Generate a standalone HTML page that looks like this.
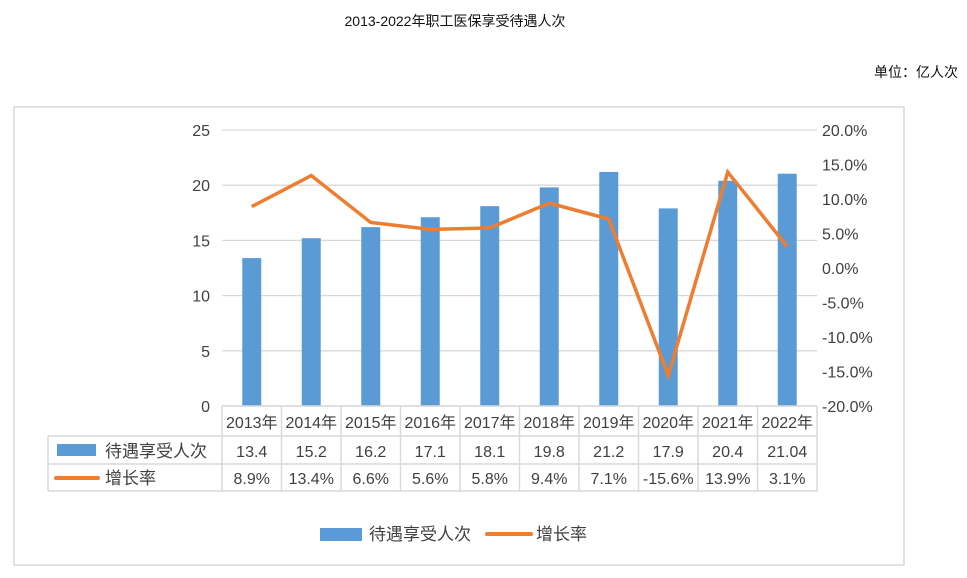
<!DOCTYPE html>
<html><head><meta charset="utf-8"><style>
body{margin:0;background:#fff;}
svg text{font-family:"Liberation Sans","Noto Sans CJK SC",sans-serif;fill:#404040;}
</style></head><body>
<svg width="967" height="573" xmlns="http://www.w3.org/2000/svg">
<text x="455" y="26" font-size="14" text-anchor="middle" fill="#000" style="fill:#111">2013-2022年职工医保享受待遇人次</text>
<text x="958" y="77" font-size="14" text-anchor="end" style="fill:#111">单位：亿人次</text>
<rect x="14" y="107" width="890" height="458" fill="none" stroke="#d9d9d9" stroke-width="1.5"/>
<g id="grid"></g><g id="bars"></g><g id="line"></g><g id="axes"></g><g id="table"></g>
<g>
<rect x="320" y="528" width="42" height="13" fill="#5B9BD5"/>
<text x="369" y="540" font-size="17">待遇享受人次</text>
<line x1="487" y1="534" x2="531" y2="534" stroke="#ED7D31" stroke-width="4" stroke-linecap="round"/>
<text x="536" y="540" font-size="17">增长率</text>
</g>
</svg>
<script>
const categories=["2013年","2014年","2015年","2016年","2017年","2018年","2019年","2020年","2021年","2022年"];
const visits=[13.4,15.2,16.2,17.1,18.1,19.8,21.2,17.9,20.4,21.04];
const visitLabels=["13.4","15.2","16.2","17.1","18.1","19.8","21.2","17.9","20.4","21.04"];
const growth=[8.9,13.4,6.6,5.6,5.8,9.4,7.1,-15.6,13.9,3.1];
const growthLabels=["8.9%","13.4%","6.6%","5.6%","5.8%","9.4%","7.1%","-15.6%","13.9%","3.1%"];
const leftTicks=[0,5,10,15,20,25];
const rightTicks=[-20,-15,-10,-5,0,5,10,15,20];
const NS="http://www.w3.org/2000/svg";
const X0=222,X1=817,Y0=406,Y1=130;
const bw=(X1-X0)/categories.length;
const xc=i=>X0+bw*(i+0.5);
const yL=v=>Y0-(v/25)*(Y0-Y1);
const yR=v=>Y0-((v+20)/40)*(Y0-Y1);
function mk(tag,attrs,parent,txt){const e=document.createElementNS(NS,tag);for(const k in attrs)e.setAttribute(k,attrs[k]);if(txt!=null)e.textContent=txt;document.getElementById(parent).appendChild(e);return e;}
leftTicks.forEach(t=>{
 const l=mk('line',{x1:X0,x2:X1,y1:yL(t),y2:yL(t),stroke:'#d9d9d9','stroke-width':1.3},'grid');
 
 
 const tx=mk('text',{x:210,y:yL(t)+6,'font-size':16,'text-anchor':'end'},'axes',t);
 
 
});
rightTicks.forEach(t=>{
 const tx=mk('text',{x:822,y:yR(t)+6,'font-size':16},'axes',t.toFixed(1)+'%');
 
 
});
visits.forEach((v,i)=>{
 const r=mk('rect',{x:xc(i)-9.5,y:yL(v),width:19,height:Y0-yL(v),fill:'#5B9BD5'},'bars');
 
 
});
const p=mk('polyline',{points:growth.map((g,i)=>xc(i)+','+yR(g)).join(' '),fill:'none',stroke:'#ED7D31','stroke-width':3.5,'stroke-linejoin':'miter'},'line');


// table
const rows=[406,436,464,491];
const tc='#d9d9d9';
[[X0,X1,rows[0]],[48,X1,rows[1]],[48,X1,rows[2]],[48,X1,rows[3]]].forEach(a=>{
 const l=mk('line',{x1:a[0],x2:a[1],y1:a[2],y2:a[2],stroke:tc,'stroke-width':1.5},'table');
 
 
});
for(let i=0;i<=categories.length;i++){
 const l=mk('line',{x1:X0+bw*i,x2:X0+bw*i,y1:rows[0],y2:rows[3],stroke:tc,'stroke-width':1.5},'table');
 
 
}
const l0=mk('line',{x1:48,x2:48,y1:rows[1],y2:rows[3],stroke:tc,'stroke-width':1.5},'table');


categories.forEach((c,i)=>{
 const t=mk('text',{x:xc(i),y:428,'font-size':16,'text-anchor':'middle'},'table',c);
 
 
 const a=mk('text',{x:xc(i),y:457,'font-size':16,'text-anchor':'middle'},'table',visitLabels[i]);
 
 
 const b=mk('text',{x:xc(i),y:484,'font-size':16,'text-anchor':'middle'},'table',growthLabels[i]);
 
 
});
const s1=mk('rect',{x:57,y:444,width:39,height:12,fill:'#5B9BD5'},'table');


const t1=mk('text',{x:105,y:457,'font-size':17},'table','待遇享受人次');


const s2=mk('line',{x1:56,x2:98,y1:478,y2:478,stroke:'#ED7D31','stroke-width':4,'stroke-linecap':'round'},'table');


const t2=mk('text',{x:105,y:484,'font-size':17},'table','增长率');


</script>
</body></html>
